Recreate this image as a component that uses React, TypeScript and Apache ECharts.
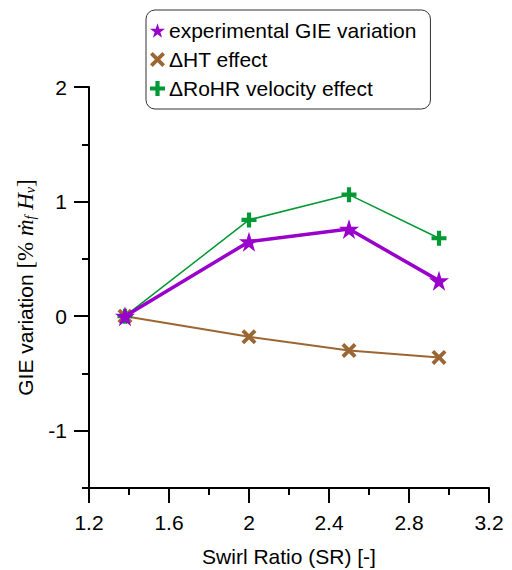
import React, { useEffect, useRef } from "react";
import * as echarts from "echarts";

const swirlRatio = [1.38, 2.0, 2.5, 2.95];
const gieVariation = [0, 0.65, 0.76, 0.31];
const htEffect = [0, -0.18, -0.3, -0.36];
const rohrEffect = [0, 0.84, 1.06, 0.68];

const xTicks = [1.2, 1.6, 2.0, 2.4, 2.8, 3.2];
const yMajor = [-1, 0, 1, 2];
const yMinor = [-1.5, -0.5, 0.5, 1.5];

const seriesNames = ["experimental GIE variation", "\u0394HT effect", "\u0394RoHR velocity effect"];

const STAR = "path://M50,0 L61.2,34.5 L97.6,34.5 L68.2,55.9 L79.4,90.5 L50,69.1 L20.6,90.5 L31.8,55.9 L2.4,34.5 L38.8,34.5 Z";
const CROSS = "path://M18,0 L50,32 L82,0 L100,18 L68,50 L100,82 L82,100 L50,68 L18,100 L0,82 L32,50 L0,18 Z";
const PLUS = "path://M36,0 L64,0 L64,36 L100,36 L100,64 L64,64 L64,100 L36,100 L36,64 L0,64 L0,36 L36,36 Z";

const PURPLE = "#9900cc";
const BROWN = "#9c6633";
const GREEN = "#009933";

export default function App() {
  const ref = useRef<HTMLDivElement>(null);
  useEffect(() => {
    if (!ref.current) return;
    const chart = echarts.init(ref.current, null, { renderer: "svg" });
    const pair = (ys: number[]) => swirlRatio.map((x, i) => [x, ys[i]]);
    const font = "'Liberation Sans', Arial, sans-serif";
    const serif = "'Liberation Serif', 'Times New Roman', serif";
    chart.setOption({
      animation: false,
      backgroundColor: "#fff",
      grid: { left: 89, right: 23, top: 87, bottom: 82, containLabel: false, outerBoundsMode: "none" },
      legend: {
        orient: "vertical",
        left: 146,
        top: 10,
        padding: [10, 14, 10, 4],
        itemGap: 8,
        itemWidth: 15,
        itemHeight: 15,
        borderColor: "#333",
        borderWidth: 1,
        borderRadius: 9,
        textStyle: { fontSize: 21, fontFamily: font, color: "#000", padding: [0, 0, 0, -1] },
        data: [
          { name: seriesNames[0], icon: STAR },
          { name: seriesNames[1], icon: CROSS },
          { name: seriesNames[2], icon: PLUS },
        ],
      },
      xAxis: {
        type: "value",
        min: xTicks[0],
        max: xTicks[xTicks.length - 1],
        interval: 0.4,
        name: "Swirl Ratio (SR) [-]",
        nameLocation: "middle",
        nameGap: 58,
        nameTextStyle: { fontSize: 21, fontFamily: font, color: "#000" },
        axisLine: { show: true, onZero: false, lineStyle: { color: "#000", width: 2 } },
        axisTick: { show: true, length: 15, lineStyle: { color: "#000", width: 2 } },
        minorTick: { show: true, splitNumber: 2, length: 7, lineStyle: { color: "#000", width: 2 } },
        splitLine: { show: false },
        axisLabel: {
          fontSize: 21,
          fontFamily: font,
          color: "#000",
          margin: 24,
          formatter: (v: number) => String(Math.round(v * 10) / 10),
        },
      },
      yAxis: [
        {
          type: "value",
          min: -1.5,
          max: 2,
          name: "{a|GIE variation }{b|[% }{i|\u1E41}{s|f}{i| H}{s|v}{b|]}",
          nameLocation: "middle",
          nameRotate: 90,
          nameGap: 52,
          nameTextStyle: {
            fontSize: 21,
            color: "#000",
            rich: {
              a: { fontSize: 21, fontFamily: font, color: "#000" },
              b: { fontSize: 23, fontFamily: serif, color: "#000" },
              i: { fontSize: 23, fontFamily: serif, fontStyle: "italic", color: "#000" },
              s: { fontSize: 14, fontFamily: serif, fontStyle: "italic", color: "#000", verticalAlign: "bottom", padding: [10, 0, 0, 0] },
            },
          },
          axisLine: { show: true, onZero: false, lineStyle: { color: "#000", width: 2 } },
          axisTick: { show: true, length: 15, customValues: yMajor, lineStyle: { color: "#000", width: 2 } },
          splitLine: { show: false },
          axisLabel: {
            customValues: yMajor,
            fontSize: 21,
            fontFamily: font,
            color: "#000",
            margin: 22,
          },
        },
        {
          type: "value",
          min: -1.5,
          max: 2,
          position: "left",
          axisLine: { show: false },
          axisTick: { show: true, length: 7, customValues: yMinor, lineStyle: { color: "#000", width: 2 } },
          axisLabel: { show: false },
          splitLine: { show: false },
        },
      ],
      series: [
        {
          name: seriesNames[1],
          type: "line",
          data: pair(htEffect),
          color: BROWN,
          lineStyle: { width: 2, color: BROWN },
          symbol: CROSS,
          symbolSize: 15,
          itemStyle: { color: BROWN },
          z: 2,
        },
        {
          name: seriesNames[2],
          type: "line",
          data: pair(rohrEffect),
          color: GREEN,
          lineStyle: { width: 1.5, color: GREEN },
          symbol: PLUS,
          symbolSize: 15,
          itemStyle: { color: GREEN },
          z: 3,
        },
        {
          name: seriesNames[0],
          type: "line",
          data: pair(gieVariation),
          color: PURPLE,
          lineStyle: { width: 3.5, color: PURPLE },
          symbol: STAR,
          symbolSize: 20,
          itemStyle: { color: PURPLE },
          z: 4,
        },
      ],
    });
    return () => chart.dispose();
  }, []);
  return <div ref={ref} style={{ position: "absolute", left: 0, top: 0, width: 512, height: 570 }} />;
}
